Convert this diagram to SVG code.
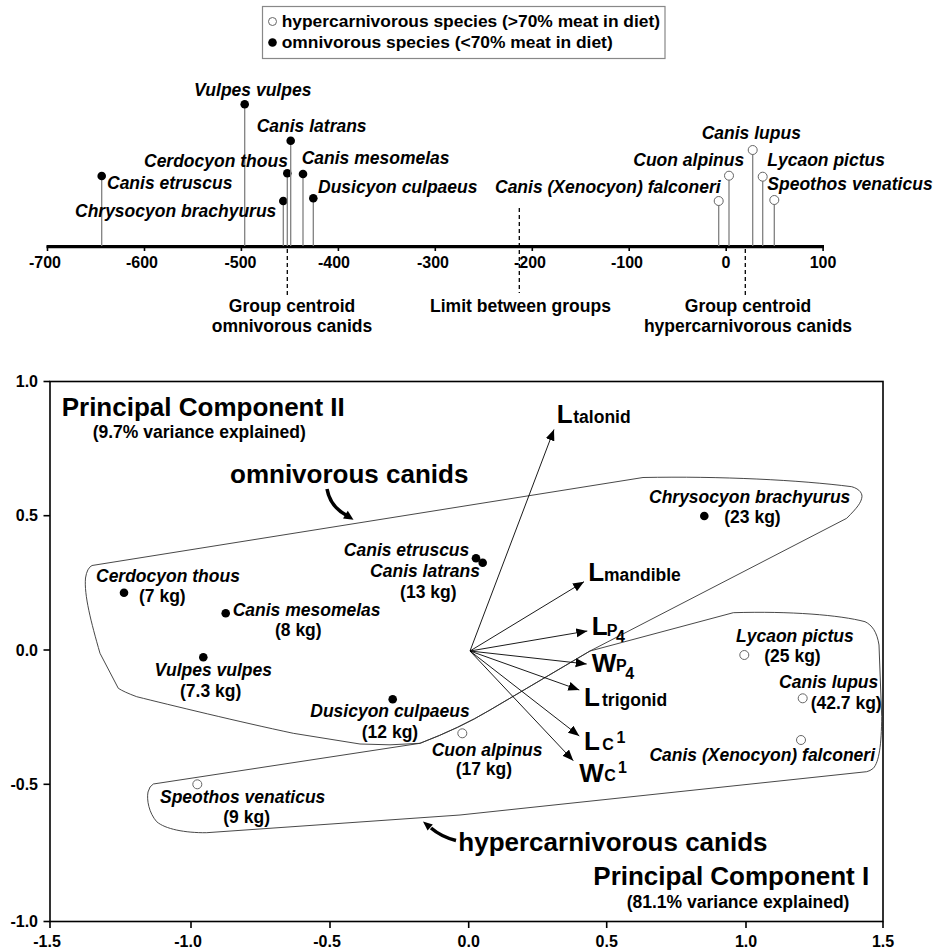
<svg xmlns="http://www.w3.org/2000/svg" width="933" height="951" viewBox="0 0 933 951">
<style>
text{font-family:"Liberation Sans",Arial,Helvetica,sans-serif;font-weight:bold;fill:#000}
.sp{font-style:italic;font-size:17.5px}
.kg{font-size:17.5px}
.ax{font-size:16px}
.big{font-size:26px}
.lg{font-size:17.4px}
.stem{stroke:#808080;stroke-width:1.3;fill:none}
.dot{fill:#000}
.odot{fill:#fff;stroke:#666;stroke-width:1}
.dash{stroke:#000;stroke-width:1.3;stroke-dasharray:4 3;fill:none}
.hull{fill:none;stroke:#333;stroke-width:0.9}
.vec{stroke:#000;stroke-width:0.9;fill:none}
.frame{stroke:#000;stroke-width:1.6;fill:none}
.tick{stroke:#000;stroke-width:1.6}
.mid{text-anchor:middle}
.end{text-anchor:end}
</style>
<defs>
<marker id="ah" markerUnits="userSpaceOnUse" markerWidth="12" markerHeight="10" refX="11" refY="4.5" orient="auto">
<path d="M0,0 L11,4.5 L0,9 Z" fill="#000"/>
</marker>
</defs>

<!-- Legend -->
<g id="legend">
<rect x="262.5" y="6.5" width="402.5" height="52" fill="#fff" stroke="#888" stroke-width="1.2"/>
<circle class="odot" cx="272.5" cy="21.5" r="4"/>
<text class="lg" x="281.7" y="27">hypercarnivorous species (&gt;70% meat in diet)</text>
<circle class="dot" cx="272.5" cy="42.5" r="4.3"/>
<text class="lg" x="281.7" y="48">omnivorous species (&lt;70% meat in diet)</text>
</g>

<!-- Top discriminant axis -->
<g id="top-axis">
<line x1="46.5" y1="246.7" x2="824" y2="246.7" stroke="#000" stroke-width="3.2"/>
<g class="tick">
<line x1="47.5" y1="246" x2="47.5" y2="251"/>
<line x1="144.5" y1="246" x2="144.5" y2="251"/>
<line x1="241.4" y1="246" x2="241.4" y2="251"/>
<line x1="338.4" y1="246" x2="338.4" y2="251"/>
<line x1="435.3" y1="246" x2="435.3" y2="251"/>
<line x1="532.3" y1="246" x2="532.3" y2="251"/>
<line x1="629.2" y1="246" x2="629.2" y2="251"/>
<line x1="726.2" y1="246" x2="726.2" y2="251"/>
<line x1="823.1" y1="246" x2="823.1" y2="251"/>
</g>
<text class="ax mid" x="45" y="268">-700</text>
<text class="ax mid" x="142" y="268">-600</text>
<text class="ax mid" x="240.5" y="268">-500</text>
<text class="ax mid" x="334" y="268">-400</text>
<text class="ax mid" x="433" y="268">-300</text>
<text class="ax mid" x="530" y="268">-200</text>
<text class="ax mid" x="627" y="268">-100</text>
<text class="ax mid" x="726" y="268">0</text>
<text class="ax mid" x="823" y="268">100</text>
</g>

<g id="centroid-omni">
<line class="dash" x1="287.3" y1="249" x2="287.3" y2="297"/>
<text class="kg mid" x="292" y="312">Group centroid</text>
<text class="kg mid" x="292" y="331.5">omnivorous canids</text>
</g>
<g id="limit">
<line class="dash" x1="519.3" y1="208" x2="519.3" y2="293"/>
<text class="kg mid" x="520.5" y="312">Limit between groups</text>
</g>
<g id="centroid-hyper">
<line class="dash" x1="745.3" y1="249" x2="745.3" y2="296"/>
<text class="kg mid" x="748" y="312">Group centroid</text>
<text class="kg mid" x="748" y="331.5">hypercarnivorous canids</text>
</g>

<g id="top-species">
<g id="t-etruscus"><line class="stem" x1="101.7" y1="176" x2="101.7" y2="246"/><circle class="dot" cx="101.7" cy="176" r="4.3"/><text class="sp" x="107" y="189.3">Canis etruscus</text></g>
<g id="t-vulpes"><line class="stem" x1="244.7" y1="104.3" x2="244.7" y2="246"/><circle class="dot" cx="244.7" cy="104.3" r="4.3"/><text class="sp" x="194" y="95.5">Vulpes vulpes</text></g>
<g id="t-chrysocyon"><line class="stem" x1="283.3" y1="201" x2="283.3" y2="246"/><circle class="dot" cx="283.3" cy="201" r="4.3"/><text class="sp" x="75" y="217.3">Chrysocyon brachyurus</text></g>
<g id="t-cerdocyon"><line class="stem" x1="287.3" y1="173.3" x2="287.3" y2="246"/><circle class="dot" cx="287.3" cy="173.3" r="4.3"/><text class="sp" x="144" y="167.3">Cerdocyon thous</text></g>
<g id="t-latrans"><line class="stem" x1="290.7" y1="140.7" x2="290.7" y2="246"/><circle class="dot" cx="290.7" cy="140.7" r="4.3"/><text class="sp" x="256.7" y="132">Canis latrans</text></g>
<g id="t-mesomelas"><line class="stem" x1="303" y1="174" x2="303" y2="246"/><circle class="dot" cx="303" cy="174" r="4.3"/><text class="sp" x="301.7" y="164.3">Canis mesomelas</text></g>
<g id="t-dusicyon"><line class="stem" x1="313.3" y1="198.3" x2="313.3" y2="246"/><circle class="dot" cx="313.3" cy="198.3" r="4.3"/><text class="sp" x="318" y="193.3">Dusicyon culpaeus</text></g>
<g id="t-falconeri"><line class="stem" x1="718.7" y1="201" x2="718.7" y2="246"/><circle class="odot" cx="718.7" cy="201" r="4.5"/><text class="sp" x="495" y="193.3">Canis (Xenocyon) falconeri</text></g>
<g id="t-cuon"><line class="stem" x1="729" y1="175.7" x2="729" y2="246"/><circle class="odot" cx="729" cy="175.7" r="4.5"/><text class="sp" x="633.3" y="165.7">Cuon alpinus</text></g>
<g id="t-lupus"><line class="stem" x1="752.7" y1="150" x2="752.7" y2="246"/><circle class="odot" cx="752.7" cy="150" r="4.5"/><text class="sp" x="701.7" y="139.3">Canis lupus</text></g>
<g id="t-lycaon"><line class="stem" x1="762.7" y1="176.7" x2="762.7" y2="246"/><circle class="odot" cx="762.7" cy="176.7" r="4.5"/><text class="sp" x="767.3" y="165.7">Lycaon pictus</text></g>
<g id="t-speothos"><line class="stem" x1="774.3" y1="200" x2="774.3" y2="246"/><circle class="odot" cx="774.3" cy="200" r="4.5"/><text class="sp" x="767.3" y="190">Speothos venaticus</text></g>
</g>

<!-- PCA plot -->
<g id="pca-frame">
<rect class="frame" x="50" y="381.5" width="833" height="540"/>
<g class="tick">
<line x1="43.5" y1="381.5" x2="50" y2="381.5"/>
<line x1="43.5" y1="515.7" x2="50" y2="515.7"/>
<line x1="43.5" y1="650" x2="50" y2="650"/>
<line x1="43.5" y1="784.3" x2="50" y2="784.3"/>
<line x1="43.5" y1="921.5" x2="50" y2="921.5"/>
<line x1="50" y1="921.5" x2="50" y2="928"/>
<line x1="191" y1="921.5" x2="191" y2="928"/>
<line x1="330" y1="921.5" x2="330" y2="928"/>
<line x1="468.7" y1="921.5" x2="468.7" y2="928"/>
<line x1="606.7" y1="921.5" x2="606.7" y2="928"/>
<line x1="746" y1="921.5" x2="746" y2="928"/>
<line x1="883" y1="921.5" x2="883" y2="928"/>
</g>
<text class="ax end" x="38" y="387.3">1.0</text>
<text class="ax end" x="38" y="521.3">0.5</text>
<text class="ax end" x="38" y="655.6">0.0</text>
<text class="ax end" x="38" y="790">-0.5</text>
<text class="ax end" x="38" y="927.3">-1.0</text>
<text class="ax mid" x="47" y="946.5">-1.5</text>
<text class="ax mid" x="188" y="946.5">-1.0</text>
<text class="ax mid" x="327" y="946.5">-0.5</text>
<text class="ax mid" x="468.7" y="946.5">0.0</text>
<text class="ax mid" x="606.7" y="946.5">0.5</text>
<text class="ax mid" x="746" y="946.5">1.0</text>
<text class="ax mid" x="883" y="946.5">1.5</text>
</g>

<g id="axis-titles">
<text class="big" x="61.7" y="416">Principal Component II</text>
<text class="kg" x="92.7" y="438.3">(9.7% variance explained)</text>
<text class="big" x="593.3" y="885">Principal Component I</text>
<text class="kg" x="626.7" y="907.7">(81.1% variance explained)</text>
</g>

<g id="hull-omnivorous">
<path class="hull" d="M92,565.5 L643,477.5 C720,476 800,480 851.7,486.7 C860,489 863,494 861.7,498.3 C860.5,503 858,507 846.7,518.3 L590,651 L490,710 Q460,728 420,743.3 Q390,746 360,744 L293.3,733.3 C240,722 170,705 136.7,696.7 Q124,692 118.3,688.3 L100,653.3 C91,622 84,595 85.5,578 Q87,568 92,565.5 Z"/>
<text class="big" x="230" y="483.3">omnivorous canids</text>
<path d="M327,489 C329,500 335,509 346,515" stroke="#000" stroke-width="3.5" fill="none"/>
<polygon points="353.5,519.8 343,518.5 347.8,510.8" fill="#000"/>
</g>

<g id="hull-hypercarnivorous">
<path class="hull" d="M153.3,784 L420,743.3 Q460,728 490,710 L590,651 L733.3,612.7 C790,611 840,615 865,621.7 C872,625 877,632 879,645 L881.7,716.7 C881.5,745 879,762 873.3,768.3 Q870,771 866.7,771.7 L460,815 L206.7,832.7 C185,833 165,829 156.7,821.7 C149,813 146.5,800 148,792 Q149.5,786 153.3,784 Z"/>
<text class="big" x="458.3" y="850.7">hypercarnivorous canids</text>
<path d="M456,840.5 C446,838 438,834 431,828" stroke="#000" stroke-width="3.5" fill="none"/>
<polygon points="423,821.5 432.8,824.4 427.6,830.6" fill="#000"/>
</g>

<g id="vectors">
<line class="vec" x1="470" y1="651" x2="554" y2="429.5" marker-end="url(#ah)"/>
<line class="vec" x1="470" y1="651" x2="584" y2="581.7" marker-end="url(#ah)"/>
<line class="vec" x1="470" y1="651" x2="587.3" y2="631" marker-end="url(#ah)"/>
<line class="vec" x1="470" y1="651" x2="586.7" y2="664" marker-end="url(#ah)"/>
<line class="vec" x1="470" y1="651" x2="579.3" y2="690" marker-end="url(#ah)"/>
<line class="vec" x1="470" y1="651" x2="579.3" y2="736" marker-end="url(#ah)"/>
<line class="vec" x1="470" y1="651" x2="573.3" y2="760.7" marker-end="url(#ah)"/>
</g>

<g id="v-talonid"><text class="big" x="556.7" y="423.3">L</text><text class="kg" x="573.3" y="423.3">talonid</text></g>
<g id="v-mandible"><text class="big" x="588.3" y="580.7">L</text><text class="kg" x="604" y="580.7">mandible</text></g>
<g id="v-LP4"><text class="big" x="591.7" y="635">L</text><text x="606.7" y="635.5" font-size="16">P</text><text x="616" y="642" font-size="16">4</text></g>
<g id="v-WP4"><text class="big" x="591.7" y="671.7">W</text><text x="616" y="670.5" font-size="16">P</text><text x="625.3" y="679" font-size="16">4</text></g>
<g id="v-trigonid"><text class="big" x="584" y="705.7">L</text><text class="kg" x="602" y="705.7">trigonid</text></g>
<g id="v-LC1"><text class="big" x="584" y="750">L</text><text x="602.3" y="749.5" font-size="16">C</text><text x="616.5" y="742.7" font-size="16">1</text></g>
<g id="v-WC1"><text class="big" x="579.3" y="781.7">W</text><text x="604.3" y="781.2" font-size="16">C</text><text x="618" y="773.3" font-size="16">1</text></g>

<g id="p-cerdocyon"><circle class="dot" cx="124" cy="592.7" r="4.3"/><text class="sp" x="96" y="581.7">Cerdocyon thous</text><text class="kg" x="139" y="601.7">(7 kg)</text></g>
<g id="p-mesomelas"><circle class="dot" cx="225.7" cy="613.3" r="4.3"/><text class="sp" x="232.7" y="616">Canis mesomelas</text><text class="kg mid" x="298.3" y="636">(8 kg)</text></g>
<g id="p-vulpes"><circle class="dot" cx="203.3" cy="657.3" r="4.3"/><text class="sp mid" x="213.3" y="676">Vulpes vulpes</text><text class="kg mid" x="210.7" y="697.3">(7.3 kg)</text></g>
<g id="p-dusicyon"><circle class="dot" cx="392.7" cy="699.3" r="4.3"/><text class="sp mid" x="390" y="717.3">Dusicyon culpaeus</text><text class="kg mid" x="390" y="737.7">(12 kg)</text></g>
<g id="p-etruscus"><circle class="dot" cx="476" cy="558.3" r="4.3"/><text class="sp end" x="469.3" y="556">Canis etruscus</text></g>
<g id="p-latrans"><circle class="dot" cx="482.7" cy="562.7" r="4.3"/><text class="sp end" x="480" y="576.7">Canis latrans</text><text class="kg mid" x="428.3" y="597.7">(13 kg)</text></g>
<g id="p-chrysocyon"><circle class="dot" cx="704.3" cy="516" r="4.3"/><text class="sp" x="649" y="502.7">Chrysocyon brachyurus</text><text class="kg" x="724.3" y="523.3">(23 kg)</text></g>
<g id="p-lycaon"><circle class="odot" cx="744.3" cy="655" r="4.5"/><text class="sp" x="736" y="641.7">Lycaon pictus</text><text class="kg" x="764.3" y="661.7">(25 kg)</text></g>
<g id="p-lupus"><circle class="odot" cx="802.7" cy="698.3" r="4.5"/><text class="sp end" x="878.3" y="688.3">Canis lupus</text><text class="kg" x="810.7" y="709.3">(42.7 kg)</text></g>
<g id="p-falconeri"><circle class="odot" cx="801" cy="740" r="4.5"/><text class="sp end" x="875" y="761">Canis (Xenocyon) falconeri</text></g>
<g id="p-cuon"><circle class="odot" cx="462.3" cy="733.3" r="4.5"/><text class="sp" x="431.7" y="756">Cuon alpinus</text><text class="kg" x="455.7" y="775">(17 kg)</text></g>
<g id="p-speothos"><circle class="odot" cx="197.3" cy="784.3" r="4.5"/><text class="sp" x="160" y="803">Speothos venaticus</text><text class="kg" x="223.3" y="823">(9 kg)</text></g>
</svg>
